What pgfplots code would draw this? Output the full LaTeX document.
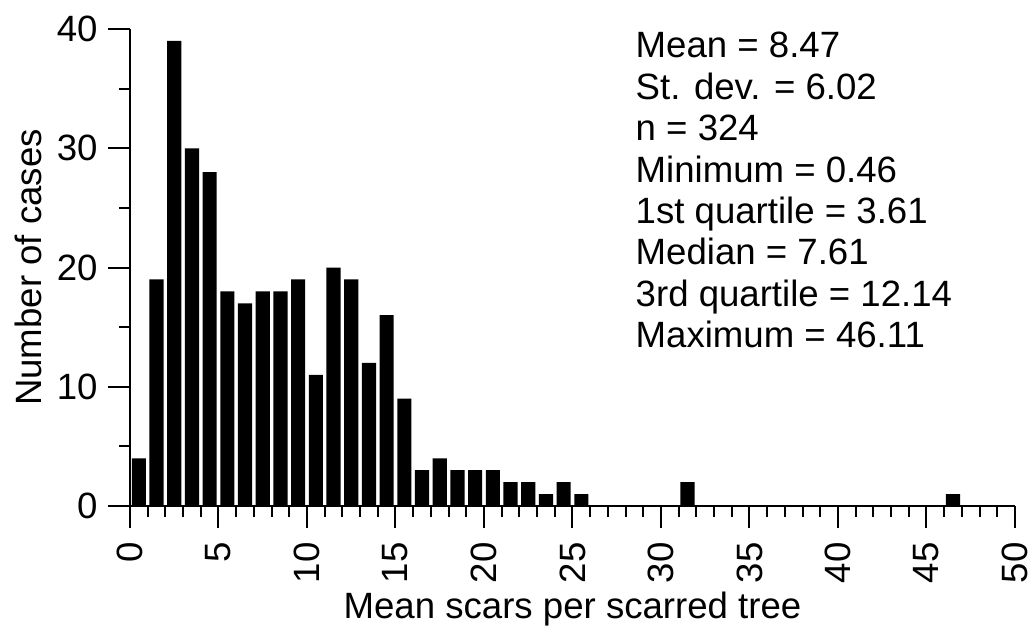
\documentclass[border=0pt]{standalone}
\usepackage{pgfplots}
\usepackage{pgfplotstable}
\pgfplotsset{compat=1.18}
\usepackage{fontspec}
\setmainfont{Liberation Sans}
\usetikzlibrary{calc}

% histogram counts, bins of width 1 (centre of bin, count)
\pgfplotstableread{
x    n
0.5  4
1.5  19
2.5  39
3.5  30
4.5  28
5.5  18
6.5  17
7.5  18
8.5  18
9.5  19
10.5 11
11.5 20
12.5 19
13.5 12
14.5 16
15.5 9
16.5 3
17.5 4
18.5 3
19.5 3
20.5 3
21.5 2
22.5 2
23.5 1
24.5 2
25.5 1
31.5 2
46.5 1
}\scars

\begin{document}
\begin{tikzpicture}[font=\fontsize{18.3bp}{21bp}\selectfont]
  \begin{axis}[scale only axis, width=442.5bp, height=238.5bp,
      xmin=0, xmax=50, ymin=0, ymax=40,
      axis lines*=left,
      axis line style={line width=1bp},
      every tick/.style={line width=1bp, black},
      tick align=outside,
      major tick length=11bp, minor tick length=5.5bp,
      xtick={0,5,...,50}, minor x tick num=4,
      ytick={0,10,...,40}, minor y tick num=1,
      /pgf/number format/assume math mode=true,
      xticklabel style={rotate=90, anchor=east, inner sep=0pt},
      xticklabel shift=7bp,
      yticklabel style={inner sep=0pt},
      yticklabel shift=5bp,
      xlabel={Mean scars per scarred tree},
      ylabel={Number of cases},
      every axis x label/.style={at={(axis description cs:0.5,0)}, anchor=base, yshift=-56bp},
      every axis y label/.style={at={($(axis description cs:0,0.5)+(-44bp,0)$)}, anchor=base, rotate=90},
      ybar, bar width=0.8]
    \addplot[fill=black, draw=none] table[x=x, y=n] {\scars};
    \coordinate (O) at (axis cs:0,0);
    \node[anchor=north west, align=left, inner sep=0pt,
          font=\fontsize{18.3bp}{20.7bp}\selectfont] at (axis cs:28.55,39.75)
      {Mean = 8.47\\St. dev. = 6.02\\n = 324\\Minimum = 0.46\\1st quartile = 3.61\\Median = 7.61\\3rd quartile = 12.14\\Maximum = 46.11};
  \end{axis}
  \pgfresetboundingbox
  \path[use as bounding box] ($(O)+(-65bp,-60bp)$) rectangle ++(515bp,313bp);
\end{tikzpicture}
\end{document}
